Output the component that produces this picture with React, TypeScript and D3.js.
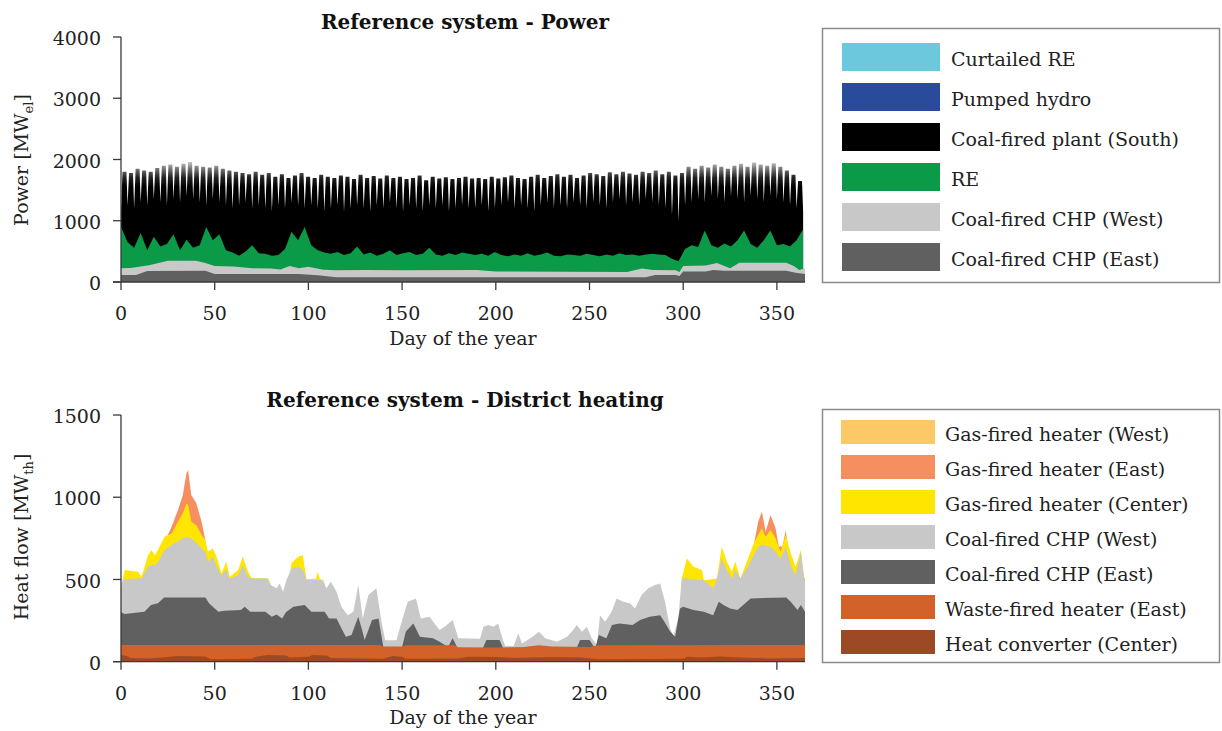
import React from "react";
import * as d3 from "d3";

const FONT = "'DejaVu Serif', 'Liberation Serif', serif";

// ---------- tick labels ----------
const DAY_TICKS = [0, 50, 100, 150, 200, 250, 300, 350];
const POWER_TICKS = [0, 1000, 2000, 3000, 4000];
const HEAT_TICKS = [0, 500, 1000, 1500];

// ---------- legends ----------
const powerSeries = ["Curtailed RE", "Pumped hydro", "Coal-fired plant (South)", "RE", "Coal-fired CHP (West)", "Coal-fired CHP (East)"];
const powerColors = ["#6cc8dc", "#2a4b9b", "#000000", "#0a9a48", "#c8c8c8", "#606060"];
const heatSeries = ["Gas-fired heater (West)", "Gas-fired heater (East)", "Gas-fired heater (Center)", "Coal-fired CHP (West)", "Coal-fired CHP (East)", "Waste-fired heater (East)", "Heat converter (Center)"];
const heatColors = ["#fdc966", "#f68f5f", "#ffe500", "#c8c8c8", "#606060", "#d2622a", "#9b4a25"];

// ---------- power data (stack tops, MW_el) ----------
const CYCLE = 3.5; // days between successive load peaks
// stack total at the trough of each cycle (day = i * CYCLE)
const totalTrough = [
  1150, 1250, 1200, 1300, 1250, 1350, 1300, 1250, 1350, 1300, 1400,
  1350, 1300, 1250, 1350, 1300, 1250, 1200, 1250, 1300, 1200,
  1250, 1200, 1150, 1250, 1200, 1300, 1250, 1200, 1250, 1200, 1150,
  1200, 1250, 1150, 1200, 1250, 1200, 1150, 1250, 1200, 1300, 1200, 1150, 1250, 1200, 1150, 1250, 1200, 1250, 1150, 1200, 1250, 1200,
  1200, 1250, 1150, 1200, 1250, 1300, 1200, 1250, 1200, 1150, 1250, 1300, 1200, 1250, 1200, 1300, 1250, 1200, 1300, 1250, 1200, 1300, 1350, 1250, 1300, 1250, 1350, 1300,
  1250, 1200, 1100, 1000, 1250, 1300, 1350, 1300, 1400, 1350, 1300, 1400, 1350, 1300, 1400, 1350, 1300, 1400, 1350, 1300, 1250, 1200, 1150,
];
// stack total at the peak of each cycle
const totalPeak = [
  1800, 1780, 1850, 1820, 1800, 1860, 1900, 1920, 1880, 1930, 1960,
  1900, 1880, 1870, 1900, 1850, 1820, 1800, 1780, 1760, 1800,
  1750, 1780, 1720, 1760, 1700, 1740, 1780, 1720, 1700, 1750, 1720,
  1700, 1740, 1720, 1680, 1750, 1700, 1730, 1690, 1740, 1700, 1720, 1680, 1700, 1740, 1660, 1720, 1690, 1710, 1680, 1700, 1720, 1690,
  1700, 1680, 1720, 1690, 1710, 1740, 1700, 1680, 1720, 1750, 1700, 1730, 1760, 1720, 1750, 1700, 1740, 1780, 1760, 1730, 1790, 1760, 1800, 1770, 1750, 1800, 1780, 1820,
  1760, 1800, 1740, 1780, 1880, 1850, 1900, 1870, 1920, 1880, 1850, 1900, 1930, 1880, 1950, 1920, 1900, 1940, 1880, 1820, 1750, 1650,
];
// top of RE band (day = i * CYCLE)
const reTop = [
  900, 650, 560, 800, 520, 740, 580, 620, 780, 520, 690, 560, 600, 900, 680, 780, 520, 480, 430, 500, 600, 470, 460, 430, 440, 540, 820, 680, 900, 600, 520, 480,
  460, 490, 440, 470, 580, 450, 480, 430, 460, 520, 440, 470, 490, 440, 460, 560, 450, 430, 470, 440, 480, 460,
  440, 460, 430, 490, 440, 420, 450, 430, 470, 430, 450, 480, 430, 420, 450, 440, 430, 460, 440, 420, 450, 430, 470, 440, 450, 430, 450, 460,
  450, 440, 380, 340, 540, 600, 570, 840, 600, 560, 630, 580, 680, 840, 620, 560, 680, 840, 600, 620, 580, 680, 860,
];
// [day, MW] top of Coal-fired CHP (West) band
const chpWestPowerTop: [number, number][] = [
  [0, 225], [5, 230], [15, 275], [25, 345], [40, 345], [45, 310], [50, 262], [60, 255], [70, 225], [80, 220], [85, 205], [90, 260], [95, 225], [100, 250], [108, 200], [115, 190], [130, 196], [150, 190], [190, 195], [200, 170], [270, 165], [278, 220], [284, 196], [296, 190], [298, 165], [300, 262], [312, 270], [318, 310], [325, 225], [330, 316], [355, 316], [359, 262], [362, 196], [365, 225],
];
// [day, MW] top of Coal-fired CHP (East) band
const chpEastPowerTop: [number, number][] = [
  [0, 115], [8, 115], [14, 180], [45, 185], [50, 130], [95, 130], [105, 110], [115, 78], [280, 78], [285, 114], [296, 114], [298, 100], [300, 170], [312, 170], [316, 196], [322, 185], [355, 185], [360, 150], [365, 130],
];

// ---------- heat data (stack tops, MW_th) ----------
const gasEastTop: [number, number][][] = [
  [[25, 770], [27, 820], [30.4, 922], [33, 1013], [34.9, 1145], [35.8, 1165], [37.5, 1013], [40.2, 963], [43, 851], [45, 740]],
  [[338, 730], [340, 851], [342, 912], [344, 790], [346.6, 892], [349.3, 811], [351, 700], [353, 700], [354.7, 800], [356, 690]],
];
const gasCenterTop: [number, number][][] = [
  [[1, 505], [2, 557], [9, 547], [11, 516], [14.4, 648], [16.2, 679], [18, 648], [19.7, 679], [23.3, 761], [27, 780], [30.4, 851], [33, 902], [35, 963], [35.8, 953], [37.5, 851], [40.2, 830], [43, 770], [45, 740], [46.4, 668], [49, 688], [51, 638], [53.6, 537], [56.2, 607], [58, 516], [62.5, 557], [65, 638], [67.8, 547], [69.6, 510], [78.5, 506]],
  [[90, 530], [91, 600], [94.5, 638], [97, 648], [99, 500], [104, 505], [105, 547], [106, 505], [108, 496]],
  [[299.2, 506], [302, 628], [305.5, 577], [310, 557], [311, 496], [318, 506], [320.6, 699], [323.3, 607], [326, 547], [327.8, 607], [330.5, 506], [334, 607], [337.6, 719], [340, 770], [342, 811], [344, 760], [346.6, 801], [349.3, 750], [352, 668], [354.7, 770], [357.4, 658], [360, 577], [362.8, 679], [364.5, 516], [365, 510]],
];
const chpWestHeatTop: [number, number][] = [
  [0, 456], [1, 500], [9, 507], [11, 505], [14.4, 577], [16.2, 590], [18, 587], [19.7, 605], [23.3, 679], [27, 709], [30.4, 733], [33, 749], [35, 759], [37.5, 749], [40.2, 725], [43, 688], [45, 668], [46.4, 607], [49, 640], [51, 577], [53.6, 526], [56.2, 560], [58, 506], [62.5, 526], [65, 587], [67.8, 516], [69.6, 506], [78.5, 506], [80, 466], [83, 446], [84.7, 476], [86.5, 425], [88.2, 496], [91, 567], [94.5, 577], [97, 560], [99, 500], [107.8, 496], [109.6, 446], [112, 486], [115, 425], [117.6, 334], [121, 283], [124, 304], [126.6, 466], [129, 263], [132, 405], [136.3, 446], [139, 243], [141, 130], [147, 130], [149, 213], [153, 365], [157.4, 385], [160, 263], [164.6, 273], [170, 193], [173, 215], [177, 253], [180, 142], [191.6, 140], [193.4, 213], [196, 223], [198.7, 213], [201.3, 233], [203, 162], [205, 95], [209.5, 95], [212, 172], [214, 111], [219.6, 152], [223, 182], [226.4, 142], [232.6, 122], [238, 152], [240.5, 182], [243.3, 223], [246, 182], [248.6, 213], [251.2, 142], [254, 102], [255.6, 283], [258.3, 243], [261.8, 304], [264.5, 385], [268, 365], [271.6, 355], [274.3, 324], [277.8, 405], [281.4, 446], [285, 466], [287.7, 476], [290.3, 365], [293, 203], [294.8, 152], [297.5, 273], [299.2, 506], [302, 506], [311, 496], [313.5, 476], [316, 446], [318, 506], [320.6, 628], [323.3, 557], [326, 506], [327.8, 557], [330.5, 506], [334, 567], [337.6, 648], [340, 699], [342, 709], [346.6, 699], [349.3, 668], [352, 628], [354.7, 699], [357.4, 587], [360, 526], [362.8, 668], [364.5, 506], [365, 500],
];
const chpEastHeatTop: [number, number][] = [
  [0, 300], [2, 290], [10, 300], [12.5, 304], [16, 344], [19.7, 355], [23, 390], [45, 390], [47, 355], [50, 324], [52, 304], [55, 310], [64, 314], [66, 334], [69, 304], [77, 304], [80.5, 273], [83, 287], [86, 263], [88, 300], [92, 334], [98, 344], [101.6, 304], [108.7, 304], [111, 263], [115, 263], [117.6, 203], [120, 152], [123, 162], [126.6, 273], [128.5, 200], [130, 132], [134, 253], [137.4, 263], [140, 90], [150, 90], [152, 183], [156, 233], [159.5, 152], [166.5, 142], [170, 122], [174.5, 90], [177, 142], [179.7, 80], [193, 80], [195, 132], [202, 132], [204, 80], [243, 80], [245, 132], [250, 132], [253, 80], [255, 162], [259, 142], [262, 223], [266, 233], [273, 223], [277, 253], [282, 273], [287.7, 283], [290, 243], [293, 183], [295.7, 152], [298.3, 324], [300, 334], [305.5, 314], [311, 304], [316, 283], [319, 365], [321.5, 344], [325, 324], [329, 314], [332, 344], [336, 385], [355, 390], [357.4, 365], [361, 314], [362.8, 344], [365, 304],
];
const wasteTop: [number, number][] = [
  [0, 102], [138, 102], [140, 92], [150, 92], [152, 100], [178, 100], [180, 88], [200, 86], [215, 90], [223, 100], [230, 92], [250, 90], [255, 100], [365, 102],
];
const converterTop: [number, number][] = [
  [0, 40], [3, 35], [5, 22], [15, 20], [25, 28], [30, 35], [45, 32], [48, 15], [70, 18], [72, 30], [78, 40], [88, 38], [90, 25], [100, 30], [102, 40], [110, 38], [112, 22], [130, 20], [140, 18], [145, 35], [150, 30], [152, 18], [180, 20], [185, 30], [200, 28], [210, 22], [230, 28], [245, 25], [255, 15], [300, 18], [302, 30], [310, 25], [320, 32], [330, 25], [345, 20], [365, 22],
];

// ---------- scales ----------
const xDay = d3.scaleLinear().domain([0, 365]).range([121, 805]);
const yPow = d3.scaleLinear().domain([0, 4000]).range([282, 37]);
const yHeat = d3.scaleLinear().domain([0, 1500]).range([661.7, 415]);

const AXIS = "#3a3a3a";

function Axes({ y, yTicks, label, sub, labelY, titleText, titleY, dayLabelY, tickLabelY }: any) {
  const [y0, y1] = y.range();
  return (
    <g fontFamily={FONT} fill="#222">
      <line x1={xDay(0)} x2={xDay(0)} y1={y1} y2={y0} stroke={AXIS} strokeWidth={1.3} />
      <line x1={xDay(0) - 8} x2={xDay(365)} y1={y0} y2={y0} stroke={AXIS} strokeWidth={1.3} />
      {yTicks.map((t: number) => (
        <g key={"y" + t}>
          <line x1={xDay(0) - 8} x2={xDay(0)} y1={y(t)} y2={y(t)} stroke={AXIS} strokeWidth={1.3} />
          <text x={101} y={y(t)} dy="0.43em" textAnchor="end" fontSize={19}>{t}</text>
        </g>
      ))}
      {DAY_TICKS.map((t) => (
        <g key={"x" + t}>
          <line x1={xDay(t)} x2={xDay(t)} y1={y0} y2={y0 + 8} stroke={AXIS} strokeWidth={1.3} />
          <text x={xDay(t)} y={tickLabelY} textAnchor="middle" fontSize={19}>{t}</text>
        </g>
      ))}
      <text x={463} y={dayLabelY} textAnchor="middle" fontSize={19}>Day of the year</text>
      <text x={465} y={titleY} textAnchor="middle" fontSize={20} fontWeight="bold" fill="#111">{titleText}</text>
      <text transform={`translate(28,${labelY}) rotate(-90)`} textAnchor="middle" fontSize={19}>
        {label}
        <tspan fontSize={13} dy={5}>{sub}</tspan>
        <tspan dy={-5}>]</tspan>
      </text>
    </g>
  );
}

function Legend({ names, colors, x, y, w, h, sw, sh, pitch, tx, top }: any) {
  return (
    <g fontFamily={FONT}>
      <rect x={x} y={y} width={w} height={h} fill="white" stroke="#8a8a8a" strokeWidth={1.5} />
      {names.map((n: string, i: number) => (
        <g key={n}>
          <rect x={sw} y={top + i * pitch} width={sh[0]} height={sh[1]} fill={colors[i]} />
          <text x={tx} y={top + i * pitch + sh[1] / 2 + 9} fontSize={19} fill="#222">{n}</text>
        </g>
      ))}
    </g>
  );
}

export default function App() {
  const areaP = d3.area<[number, number]>().x((d) => xDay(d[0])).y0(yPow(0)).y1((d) => yPow(d[1]));
  const areaH = d3.area<[number, number]>().x((d) => xDay(d[0])).y0(yHeat(0)).y1((d) => yHeat(d[1]));

  // each load cycle: trough, fast rise to the peak level, hold, fast fall
  const coalPts: [number, number][] = [];
  totalTrough.forEach((t, i) => {
    coalPts.push([i * CYCLE, t]);
    if (i < totalPeak.length) {
      coalPts.push([i * CYCLE + 0.8, totalPeak[i]]);
      coalPts.push([i * CYCLE + 2.9, totalPeak[i]]);
    }
  });
  const rePts: [number, number][] = reTop.map((v, i) => [i * CYCLE, v]);

  return (
    <svg width={1222} height={731} style={{ position: "absolute", left: 0, top: 0, background: "white" }}>
      <defs>
        <linearGradient id="coalGrad" gradientUnits="userSpaceOnUse" x1={0} x2={0} y1={yPow(1960)} y2={yPow(1450)}>
          <stop offset="0" stopColor="#c8c8c8" />
          <stop offset="0.2" stopColor="#7a7a7a" />
          <stop offset="0.5" stopColor="#222" />
          <stop offset="0.8" stopColor="#000" />
          <stop offset="1" stopColor="#000" />
        </linearGradient>
      </defs>
      {/* Power chart */}
      <path d={areaP(coalPts) || ""} fill="url(#coalGrad)" />
      <path d={areaP(rePts) || ""} fill={powerColors[3]} />
      <path d={areaP(chpWestPowerTop) || ""} fill={powerColors[4]} />
      <path d={areaP(chpEastPowerTop) || ""} fill={powerColors[5]} />
      <Axes y={yPow} yTicks={POWER_TICKS} label="Power [MW" sub="el" labelY={160} titleText="Reference system - Power" titleY={29} dayLabelY={345} tickLabelY={320} />
      <Legend names={powerSeries} colors={powerColors} x={822.5} y={28.5} w={397} h={254} sw={842} sh={[98, 28]} pitch={40} tx={951} top={43} />

      {/* Heat chart */}
      {gasEastTop.map((s, i) => <path key={"ge" + i} d={areaH(s) || ""} fill={heatColors[1]} />)}
      {gasCenterTop.map((s, i) => <path key={"gc" + i} d={areaH(s) || ""} fill={heatColors[2]} />)}
      <path d={areaH(chpWestHeatTop) || ""} fill={heatColors[3]} />
      <path d={areaH(chpEastHeatTop) || ""} fill={heatColors[4]} />
      <path d={areaH(wasteTop) || ""} fill={heatColors[5]} />
      <path d={areaH(converterTop) || ""} fill={heatColors[6]} />
      <Axes y={yHeat} yTicks={HEAT_TICKS} label="Heat flow [MW" sub="th" labelY={537} titleText="Reference system - District heating" titleY={407} dayLabelY={724} tickLabelY={700} />
      <Legend names={heatSeries} colors={heatColors} x={822.5} y={409.5} w={397} h={253} sw={841} sh={[94, 24]} pitch={35} tx={945} top={420} />
    </svg>
  );
}
